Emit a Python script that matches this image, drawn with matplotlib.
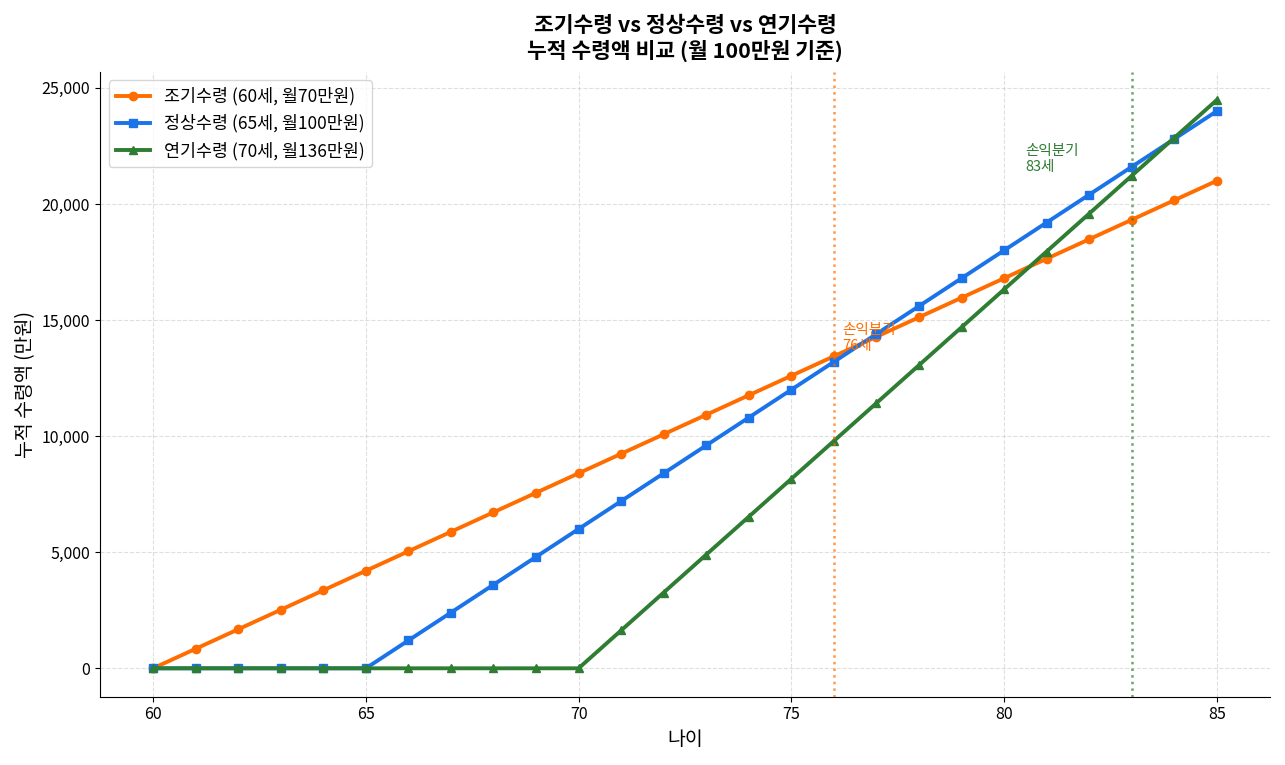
import matplotlib.pyplot as plt

plt.rcParams['font.family'] = ['Noto Sans CJK KR', 'DejaVu Sans']

# 나이 (60~85세)
ages = list(range(60, 86))

# 누적 수령액 (만원)
early = [0, 840, 1680, 2520, 3360, 4200, 5040, 5880, 6720, 7560, 8400, 9240, 10080,
         10920, 11760, 12600, 13440, 14280, 15120, 15960, 16800, 17640, 18480, 19320,
         20160, 21000]
normal = [0, 0, 0, 0, 0, 0, 1200, 2400, 3600, 4800, 6000, 7200, 8400, 9600, 10800,
          12000, 13200, 14400, 15600, 16800, 18000, 19200, 20400, 21600, 22800, 24000]
delayed = [0, 0, 0, 0, 0, 0, 0, 0, 0, 0, 0, 1632, 3264, 4896, 6528, 8160, 9792,
           11424, 13056, 14688, 16320, 17952, 19584, 21216, 22848, 24480]

labels = ['조기수령 (60세, 월70만원)', '정상수령 (65세, 월100만원)', '연기수령 (70세, 월136만원)']
colors = ['#ff6d00', '#1a73e8', '#2e7d32']
breakeven = [76, 83]

fig, ax = plt.subplots(figsize=(12.85, 7.65), dpi=100)
ax.plot(ages, early, marker='o', color=colors[0], lw=2.8, ms=6, label=labels[0])
ax.plot(ages, normal, marker='s', color=colors[1], lw=2.8, ms=6, label=labels[1])
ax.plot(ages, delayed, marker='^', color=colors[2], lw=2.8, ms=6, label=labels[2])

ax.axvline(breakeven[0], color=colors[0], ls=':', lw=1.8, alpha=0.7)
ax.axvline(breakeven[1], color=colors[2], ls=':', lw=1.8, alpha=0.7)
ax.text(breakeven[0] + 0.2, 13700, f'손익분기\n{breakeven[0]}세', color=colors[0], fontsize=10.5)
ax.text(breakeven[1] - 2.5, 21400, f'손익분기\n{breakeven[1]}세', color=colors[2], fontsize=10.5)

ax.set_title('조기수령 vs 정상수령 vs 연기수령\n누적 수령액 비교 (월 100만원 기준)',
             fontsize=15.5, fontweight='bold', pad=10)
ax.set_xlabel('나이', fontsize=14)
ax.set_ylabel('누적 수령액 (만원)', fontsize=14)
ax.tick_params(labelsize=11.5)
ax.yaxis.set_major_formatter(plt.FuncFormatter(lambda v, p: f'{int(v):,}'))
ax.grid(True, ls='--', alpha=0.4)
ax.spines['top'].set_visible(False)
ax.spines['right'].set_visible(False)
ax.legend(loc='upper left', fontsize=12.5)

plt.tight_layout()
plt.savefig('out.png')
